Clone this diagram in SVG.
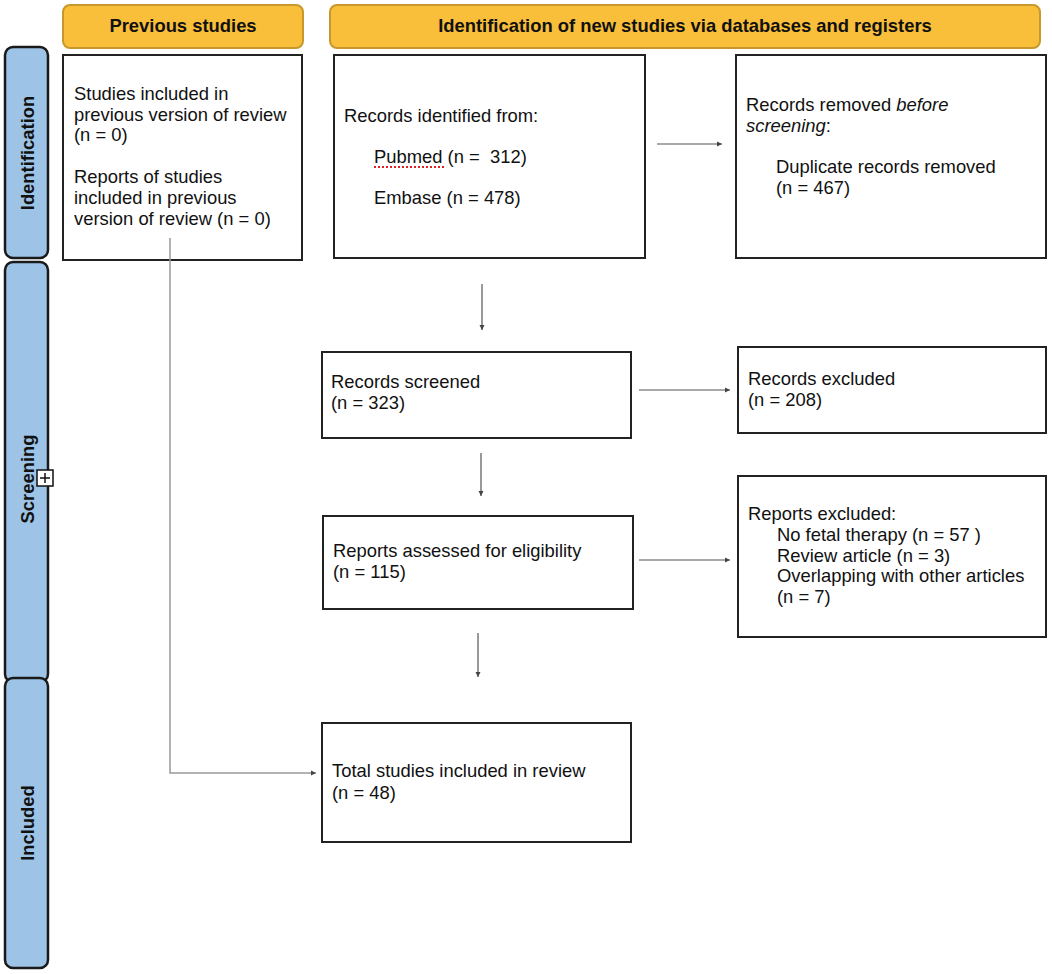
<svg xmlns="http://www.w3.org/2000/svg" width="1052" height="974" viewBox="0 0 1052 974">
<style>
.t{font-family:"Liberation Sans",Arial,sans-serif;font-size:18.4px;fill:#111}
.hb{font-family:"Liberation Sans",Arial,sans-serif;font-size:18.4px;font-weight:bold;fill:#111;text-anchor:middle}
.box{fill:#fff;stroke:#222;stroke-width:2}
.hdr{fill:#F9BE3A;stroke:#C7982C;stroke-width:2}
.side{fill:#9DC3E6;stroke:#1a1a1a;stroke-width:2.5}
.c{fill:none;stroke:#555;stroke-width:1.2}
.g{fill:none;stroke:#999;stroke-width:1.5}
</style>
<defs>
<marker id="ah" markerWidth="6" markerHeight="6" refX="5" refY="3" orient="auto" markerUnits="userSpaceOnUse">
<path d="M0,0.5 L5,3 L0,5.5 Z" fill="#444"/>
</marker>
</defs>
<rect width="1052" height="974" fill="#fff"/>

<g id="side-identification">
<rect class="side" x="5" y="47" width="43" height="211" rx="8"/>
<text class="hb" transform="translate(34,153) rotate(-90)">Identification</text>
</g>
<g id="side-screening">
<rect class="side" x="5" y="262" width="43" height="420" rx="8"/>
<text class="hb" transform="translate(34,479) rotate(-90)">Screening</text>
<rect x="37" y="470" width="16" height="16" fill="#fff" stroke="#111" stroke-width="1.5"/>
<path d="M45,473 V483 M40,478 H50" stroke="#111" stroke-width="1.5"/>
</g>
<g id="side-included">
<rect class="side" x="5" y="678" width="43" height="290" rx="8"/>
<text class="hb" transform="translate(34,823) rotate(-90)">Included</text>
</g>

<g id="hdr-previous">
<rect class="hdr" x="63" y="5" width="240" height="43" rx="7"/>
<text class="hb" x="183" y="32">Previous studies</text>
</g>
<g id="hdr-new">
<rect class="hdr" x="330" y="5" width="710" height="43" rx="7"/>
<text class="hb" x="685" y="32">Identification of new studies via databases and registers</text>
</g>

<g id="previous">
<rect class="box" x="63" y="55" width="239" height="205"/>
<text class="t" x="74" y="100">Studies included in</text>
<text class="t" x="74" y="121">previous version of review</text>
<text class="t" x="74" y="141">(n = 0)</text>
<text class="t" x="74" y="183">Reports of studies</text>
<text class="t" x="74" y="204">included in previous</text>
<text class="t" x="74" y="225">version of review (n = 0)</text>
</g>

<g id="identified">
<rect class="box" x="334" y="55" width="311" height="203"/>
<text class="t" x="344" y="122">Records identified from:</text>
<text class="t" x="374" y="163" xml:space="preserve">Pubmed (n =  312)</text>
<line x1="374" y1="167" x2="444" y2="167" stroke="#e02020" stroke-width="2" stroke-dasharray="2,2"/>
<text class="t" x="374" y="204">Embase (n = 478)</text>
</g>

<g id="removed">
<rect class="box" x="736" y="55" width="310" height="203"/>
<text class="t" x="746" y="111">Records removed <tspan font-style="italic">before</tspan></text>
<text class="t" x="746" y="132"><tspan font-style="italic">screening</tspan>:</text>
<text class="t" x="776" y="173">Duplicate records removed</text>
<text class="t" x="776" y="194">(n = 467)</text>
</g>

<g id="screened">
<rect class="box" x="322" y="352" width="309" height="86"/>
<text class="t" x="331" y="388">Records screened</text>
<text class="t" x="331" y="409">(n = 323)</text>
</g>

<g id="excluded">
<rect class="box" x="738" y="347" width="308" height="86"/>
<text class="t" x="748" y="385">Records excluded</text>
<text class="t" x="748" y="406">(n = 208)</text>
</g>

<g id="assessed">
<rect class="box" x="323" y="516" width="310" height="93"/>
<text class="t" x="333" y="557">Reports assessed for eligibility</text>
<text class="t" x="333" y="578">(n = 115)</text>
</g>

<g id="reports-excluded">
<rect class="box" x="738" y="476" width="308" height="161"/>
<text class="t" x="748" y="520">Reports excluded:</text>
<text class="t" x="777" y="541">No fetal therapy (n = 57 )</text>
<text class="t" x="777" y="562">Review article (n = 3)</text>
<text class="t" x="777" y="582">Overlapping with other articles</text>
<text class="t" x="777" y="603">(n = 7)</text>
</g>

<g id="total">
<rect class="box" x="322" y="723" width="309" height="119"/>
<text class="t" x="332" y="777">Total studies included in review</text>
<text class="t" x="332" y="799">(n = 48)</text>
</g>

<g id="connectors">
<line class="c" x1="657" y1="144" x2="722" y2="144" marker-end="url(#ah)"/>
<line class="c" x1="482" y1="284" x2="482" y2="330" marker-end="url(#ah)"/>
<line class="c" x1="639" y1="390" x2="730" y2="390" marker-end="url(#ah)"/>
<line class="c" x1="481" y1="453" x2="481" y2="496" marker-end="url(#ah)"/>
<line class="c" x1="639" y1="560" x2="730" y2="560" marker-end="url(#ah)"/>
<line class="c" x1="478" y1="633" x2="478" y2="677" marker-end="url(#ah)"/>
<path class="g" d="M170,238 V773 H316" marker-end="url(#ah)"/>
</g>
</svg>
